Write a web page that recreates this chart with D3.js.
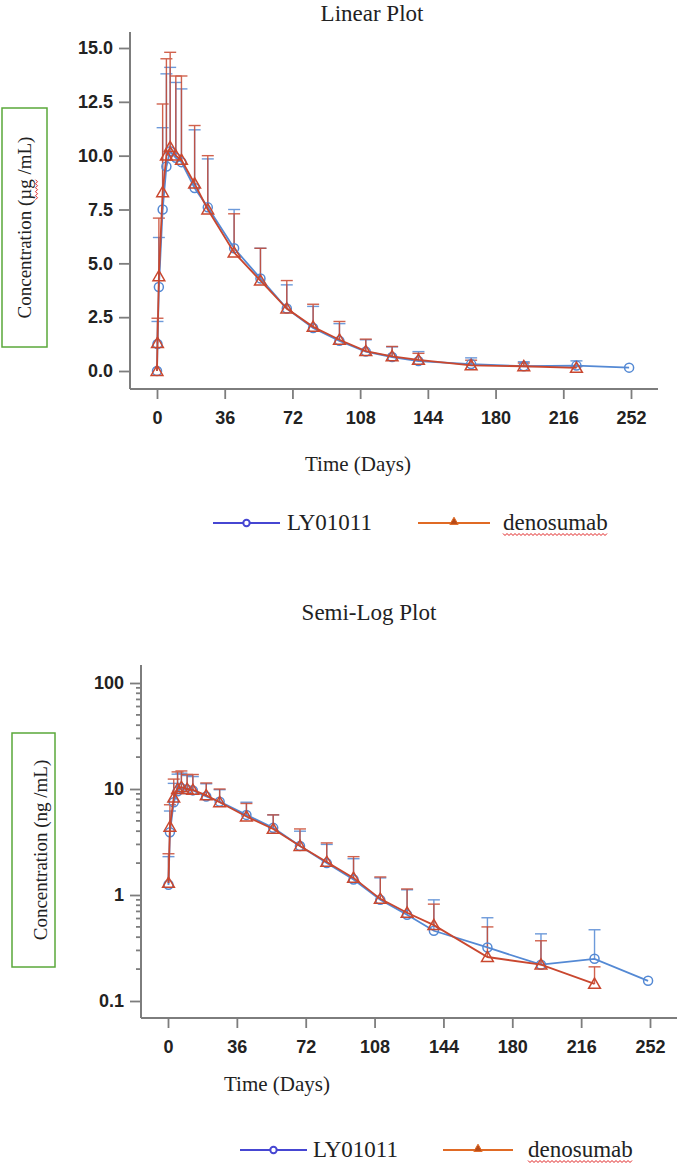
<!DOCTYPE html>
<html>
<head>
<meta charset="utf-8">
<script src="https://cdn.jsdelivr.net/npm/d3@7"></script>
<style>
  body { margin: 0; background: #fff; }
  svg { display: block; }
</style>
</head>
<body>
<div id="chart"></div>
<script>
// sampling times (days after dose)
const days = [0, 0.25, 1, 3, 5, 7, 10, 13, 20, 27, 41, 55, 69, 83, 97, 111, 125, 139, 167, 195, 223, 251]

// LY01011 mean and mean + SD
const lyMean = [0, 1.25, 3.9, 7.5, 9.5, 10.2, 9.9, 9.7, 8.5, 7.6, 5.7, 4.3, 2.9, 2.0, 1.4, 0.9, 0.65, 0.46, 0.32, 0.22, 0.25, 0.155]
const lyUpper = [null, 2.3, 6.2, 11.3, 13.8, 14.1, 13.4, 13.1, 11.2, 9.85, 7.5, 5.7, 4.0, 3.0, 2.2, 1.45, 1.12, 0.90, 0.61, 0.43, 0.47, null]

// denosumab mean and mean + SD (no day 251 sample)
const denoMean = [0, 1.3, 4.4, 8.3, 10.0, 10.4, 10.0, 9.8, 8.7, 7.5, 5.5, 4.2, 2.9, 2.05, 1.45, 0.92, 0.68, 0.52, 0.26, 0.22, 0.145]
const denoUpper = [null, 2.45, 7.1, 12.4, 14.5, 14.8, 13.7, 13.7, 11.4, 10.0, 7.3, 5.7, 4.2, 3.1, 2.3, 1.48, 1.14, 0.82, 0.50, 0.37, 0.21]

const xTicks = [0, 36, 72, 108, 144, 180, 216, 252]
const linTicks = [0, 2.5, 5, 7.5, 10, 12.5, 15]
const logTicks = [0.1, 1, 10, 100]

const W = 679, H = 1166
const blue = '#5489d4', red = '#c9472f'
const legBlue = '#4646d2', legOrange = '#e06a24'
const serif = '"Liberation Serif", "Times New Roman", serif'
const sans = '"Liberation Sans", Arial, sans-serif'

const series = [
    {name: 'LY01011', color: blue, mean: lyMean, upper: lyUpper, shape: 'circle'},
    {name: 'denosumab', color: red, mean: denoMean, upper: denoUpper, shape: 'triangle'}
]

const svg = d3.select('#chart').append('svg')
    .attr('width', W)
    .attr('height', H)
    .attr('viewBox', [0, 0, W, H])

const triangle = d3.symbol().type(d3.symbolTriangle).size(60)

// red spell-check squiggle from (x0, y) to (x1, y)
function squiggle(g, x0, x1, y) {
    const pts = d3.range(x0, x1 + 0.1, 2).map((x, i) => [x, y + (i % 2 ? 1.5 : -0.5)])
    g.append('path')
        .attr('d', d3.line()(pts))
        .attr('fill', 'none')
        .attr('stroke', '#e02020')
        .attr('stroke-width', 1)
}

/**
 * draws one panel: axes, error bars, lines and markers
 */
function panel(p) {
    const g = svg.append('g')
    const {x, y} = p

    // title
    g.append('text')
        .attr('x', p.titleX).attr('y', p.titleY)
        .attr('text-anchor', 'middle')
        .style('font', `23px ${serif}`)
        .attr('fill', '#222')
        .text(p.title)

    // axis lines
    g.append('line')
        .attr('x1', p.axisX).attr('x2', p.axisX)
        .attr('y1', p.axisTop).attr('y2', p.axisY)
        .attr('stroke', '#7d7d7d').attr('stroke-width', 2)
    g.append('line')
        .attr('x1', p.axisX).attr('x2', p.axisRight)
        .attr('y1', p.axisY).attr('y2', p.axisY)
        .attr('stroke', '#7d7d7d').attr('stroke-width', 2)

    // y axis
    const yAxis = g.append('g')
        .attr('transform', `translate(${p.axisX},0)`)
        .call(d3.axisLeft(y).tickValues(p.yTicks).tickFormat(p.yFormat).tickSize(11).tickPadding(6))
    yAxis.select('.domain').remove()
    if (p.minor) {
        const minor = []
        for (let e = -1; e < 2; e++) for (let m = 2; m < 10; m++) minor.push(m * Math.pow(10, e))
        yAxis.selectAll('.minor')
            .data(minor)
            .join('line')
            .attr('class', 'minor')
            .attr('x1', -5).attr('x2', 0)
            .attr('y1', d => y(d)).attr('y2', d => y(d))
    }

    // x axis
    const xAxis = g.append('g')
        .attr('transform', `translate(0,${p.axisY})`)
        .call(d3.axisBottom(x).tickValues(xTicks).tickSize(10).tickPadding(12))
    xAxis.select('.domain').remove()

    g.selectAll('.tick line, .minor').attr('stroke', '#7d7d7d').attr('stroke-width', 1.8)
    g.selectAll('.tick text')
        .attr('fill', '#222')
        .style('font', `bold 18px ${sans}`)

    // x title
    g.append('text')
        .attr('x', p.xTitleX).attr('y', p.xTitleY)
        .attr('text-anchor', 'middle')
        .style('font', `21px ${serif}`)
        .attr('fill', '#222')
        .text('Time (Days)')

    // y title in a green box
    g.append('rect')
        .attr('x', p.box[0]).attr('y', p.box[1])
        .attr('width', p.box[2]).attr('height', p.box[3])
        .attr('fill', 'none')
        .attr('stroke', '#5aa83a').attr('stroke-width', 1.5)
    const yl = g.append('g')
        .attr('transform', `translate(${p.yTitleX},${p.box[1] + p.box[3] / 2}) rotate(-90)`)
    const ylText = yl.append('text')
        .attr('text-anchor', 'middle')
        .style('font', `19px ${serif}`)
        .attr('fill', '#222')
        .text(p.yTitle)
    if (p.squiggle) {
        const node = ylText.node()
        const total = node.getComputedTextLength()
        const i = p.yTitle.indexOf('µ')
        const s0 = -total / 2 + node.getSubStringLength(0, i)
        const s1 = s0 + node.getSubStringLength(i, 2)
        squiggle(yl, s0, s1, 5)
    }

    // error bars
    const valid = v => v !== null && (!p.minor || v > 0)
    series.forEach(s => {
        const bars = days.map((d, i) => ({d, m: s.mean[i], u: s.upper[i]}))
            .filter(b => b.m !== undefined && valid(b.u) && valid(b.m))
        const eb = g.append('g').attr('stroke', s.color).attr('stroke-width', 1.4).attr('opacity', 0.85)
        eb.selectAll('.v').data(bars).join('line')
            .attr('x1', b => x(b.d)).attr('x2', b => x(b.d))
            .attr('y1', b => y(b.m)).attr('y2', b => y(b.u))
        eb.selectAll('.c').data(bars).join('line')
            .attr('x1', b => x(b.d) - 6).attr('x2', b => x(b.d) + 6)
            .attr('y1', b => y(b.u)).attr('y2', b => y(b.u))
    })

    // lines and markers
    series.forEach(s => {
        const pts = days.map((d, i) => ({d, v: s.mean[i]}))
            .filter(q => q.v !== undefined && valid(q.v))
        g.append('path')
            .datum(pts)
            .attr('d', d3.line().x(q => x(q.d)).y(q => y(q.v)))
            .attr('fill', 'none')
            .attr('stroke', s.color)
            .attr('stroke-width', 1.8)
        if (s.shape === 'circle') {
            g.append('g').selectAll('circle').data(pts).join('circle')
                .attr('cx', q => x(q.d)).attr('cy', q => y(q.v))
                .attr('r', 4.5)
                .attr('fill', 'none')
                .attr('stroke', s.color).attr('stroke-width', 1.5)
        } else {
            g.append('g').selectAll('path').data(pts).join('path')
                .attr('d', triangle)
                .attr('transform', q => `translate(${x(q.d)},${y(q.v) + 1})`)
                .attr('fill', 'none')
                .attr('stroke', s.color).attr('stroke-width', 1.5)
        }
    })

    // legend
    const lg = g.append('g').attr('transform', `translate(0,${p.legY})`)
    const items = [
        {name: 'LY01011', color: legBlue, x0: p.leg[0], x1: p.leg[1], tx: p.leg[2], shape: 'circle'},
        {name: 'denosumab', color: legOrange, x0: p.leg[3], x1: p.leg[4], tx: p.leg[5], shape: 'triangle'}
    ]
    items.forEach(it => {
        lg.append('line')
            .attr('x1', it.x0).attr('x2', it.x1)
            .attr('stroke', it.color).attr('stroke-width', 1.8)
        const mx = (it.x0 + it.x1) / 2
        if (it.shape === 'circle') {
            lg.append('circle').attr('cx', mx).attr('r', 3.2)
                .attr('fill', '#fff').attr('stroke', it.color).attr('stroke-width', 2)
        } else {
            lg.append('path').attr('d', d3.symbol().type(d3.symbolTriangle).size(30))
                .attr('transform', `translate(${mx},-1)`)
                .attr('fill', '#b84a18').attr('stroke', it.color)
        }
        const t = lg.append('text')
            .attr('x', it.tx).attr('y', 7)
            .style('font', `23px ${serif}`)
            .attr('fill', '#222')
            .text(it.name)
        if (it.name === 'denosumab') {
            squiggle(lg, it.tx, it.tx + t.node().getComputedTextLength(), 11)
        }
    })
}

// linear plot
panel({
    title: 'Linear Plot', titleX: 372, titleY: 21,
    x: d3.scaleLinear().domain([0, 252]).range([157, 631]),
    y: d3.scaleLinear().domain([0, 15]).range([371, 48]),
    yTicks: linTicks, yFormat: d3.format('.1f'),
    axisX: 130, axisTop: 32, axisY: 389, axisRight: 658,
    xTitleX: 358, xTitleY: 471,
    box: [2, 108, 45, 239], yTitleX: 31, yTitle: 'Concentration (µg /mL)', squiggle: true,
    legY: 523, leg: [213, 280, 287, 418, 490, 503]
})

// semi-log plot
panel({
    title: 'Semi-Log Plot', titleX: 369, titleY: 620,
    x: d3.scaleLinear().domain([0, 252]).range([168, 650]),
    y: d3.scaleLog().domain([0.1, 100]).range([1001, 683]),
    yTicks: logTicks, yFormat: d3.format('~g'), minor: true,
    axisX: 141, axisTop: 665, axisY: 1018, axisRight: 677,
    xTitleX: 277, xTitleY: 1091,
    box: [12, 733, 43, 234], yTitleX: 47, yTitle: 'Concentration (ng /mL)', squiggle: false,
    legY: 1150, leg: [240, 307, 313, 443, 513, 528]
})
</script>
</body>
</html>
